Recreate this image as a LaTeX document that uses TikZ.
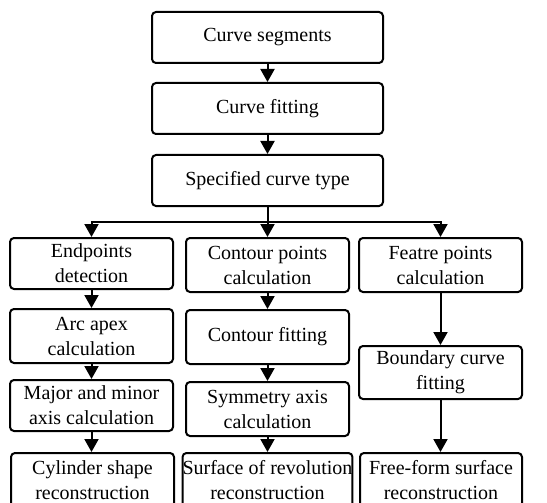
\documentclass[tikz,border=0pt]{standalone}
\usepackage{fontspec}
\setmainfont{Liberation Serif}
\usetikzlibrary{arrows.meta}
\begin{document}
\begin{tikzpicture}[x=1pt,y=-1pt,
  box/.style={draw, line width=2pt, rounded corners=4pt, rectangle, inner sep=0pt, align=center, font=\fontsize{20}{25}\selectfont},
  arr/.style={line width=2pt, -{Triangle[width=14pt,length=13pt]}},
  ln/.style={line width=2pt}]
\useasboundingbox (0,0) rectangle (547,503);
% top chain
\node[box, minimum width=231pt, minimum height=51pt] (A) at (267.5,37.5) {Curve segments};
\node[box, minimum width=231pt, minimum height=51pt] (B) at (267.5,108.5) {Curve fitting};
\node[box, minimum width=231pt, minimum height=51pt] (C) at (267.5,180.5) {Specified curve type};
% column 1
\node[box, minimum width=163pt, minimum height=51pt] (L1) at (91.5,263.5) {Endpoints\\detection};
\node[box, minimum width=163pt, minimum height=54pt] (L2) at (91.5,336) {Arc apex\\calculation};
\node[box, minimum width=163pt, minimum height=51pt] (L3) at (91.5,405.5) {Major and minor\\axis calculation};
\node[box, minimum width=163pt, minimum height=54pt] (L4) at (92.5,480) {Cylinder shape\\reconstruction};
% column 2
\node[box, minimum width=163pt, minimum height=54pt] (M1) at (267.5,265) {Contour points\\calculation};
\node[box, minimum width=163pt, minimum height=54pt] (M2) at (267.5,337) {Contour fitting};
\node[box, minimum width=163pt, minimum height=54pt] (M3) at (267.5,409) {Symmetry axis\\calculation};
\node[box, minimum width=169pt, minimum height=54pt] (M4) at (267.5,480) {Surface of revolution\\reconstruction};
% column 3
\node[box, minimum width=163pt, minimum height=54pt] (R1) at (440.5,265) {Featre points\\calculation};
\node[box, minimum width=163pt, minimum height=53pt] (R2) at (440.5,372.5) {Boundary curve\\fitting};
\node[box, minimum width=162pt, minimum height=54pt] (R4) at (441,480) {Free-form surface\\reconstruction};
% connectors
\draw[arr] (A) -- (B);
\draw[arr] (B) -- (C);
\coordinate (br) at (267.5,222);
\draw[ln] (C.south) -- (br);
\draw[arr] (br) -| (L1.north);
\draw[arr] (br) -- (M1.north);
\draw[arr] (br) -| (R1.north);
\draw[arr] (L1) -- (L2);
\draw[arr] (L2) -- (L3);
\draw[arr] (L3.south) -- (L3.south |- L4.north);
\draw[arr] (M1) -- (M2);
\draw[arr] (M2) -- (M3);
\draw[arr] (M3) -- (M4);
\draw[arr] (R1) -- (R2);
\draw[arr] (R2.south) -- (R2.south |- R4.north);
\end{tikzpicture}
\end{document}
